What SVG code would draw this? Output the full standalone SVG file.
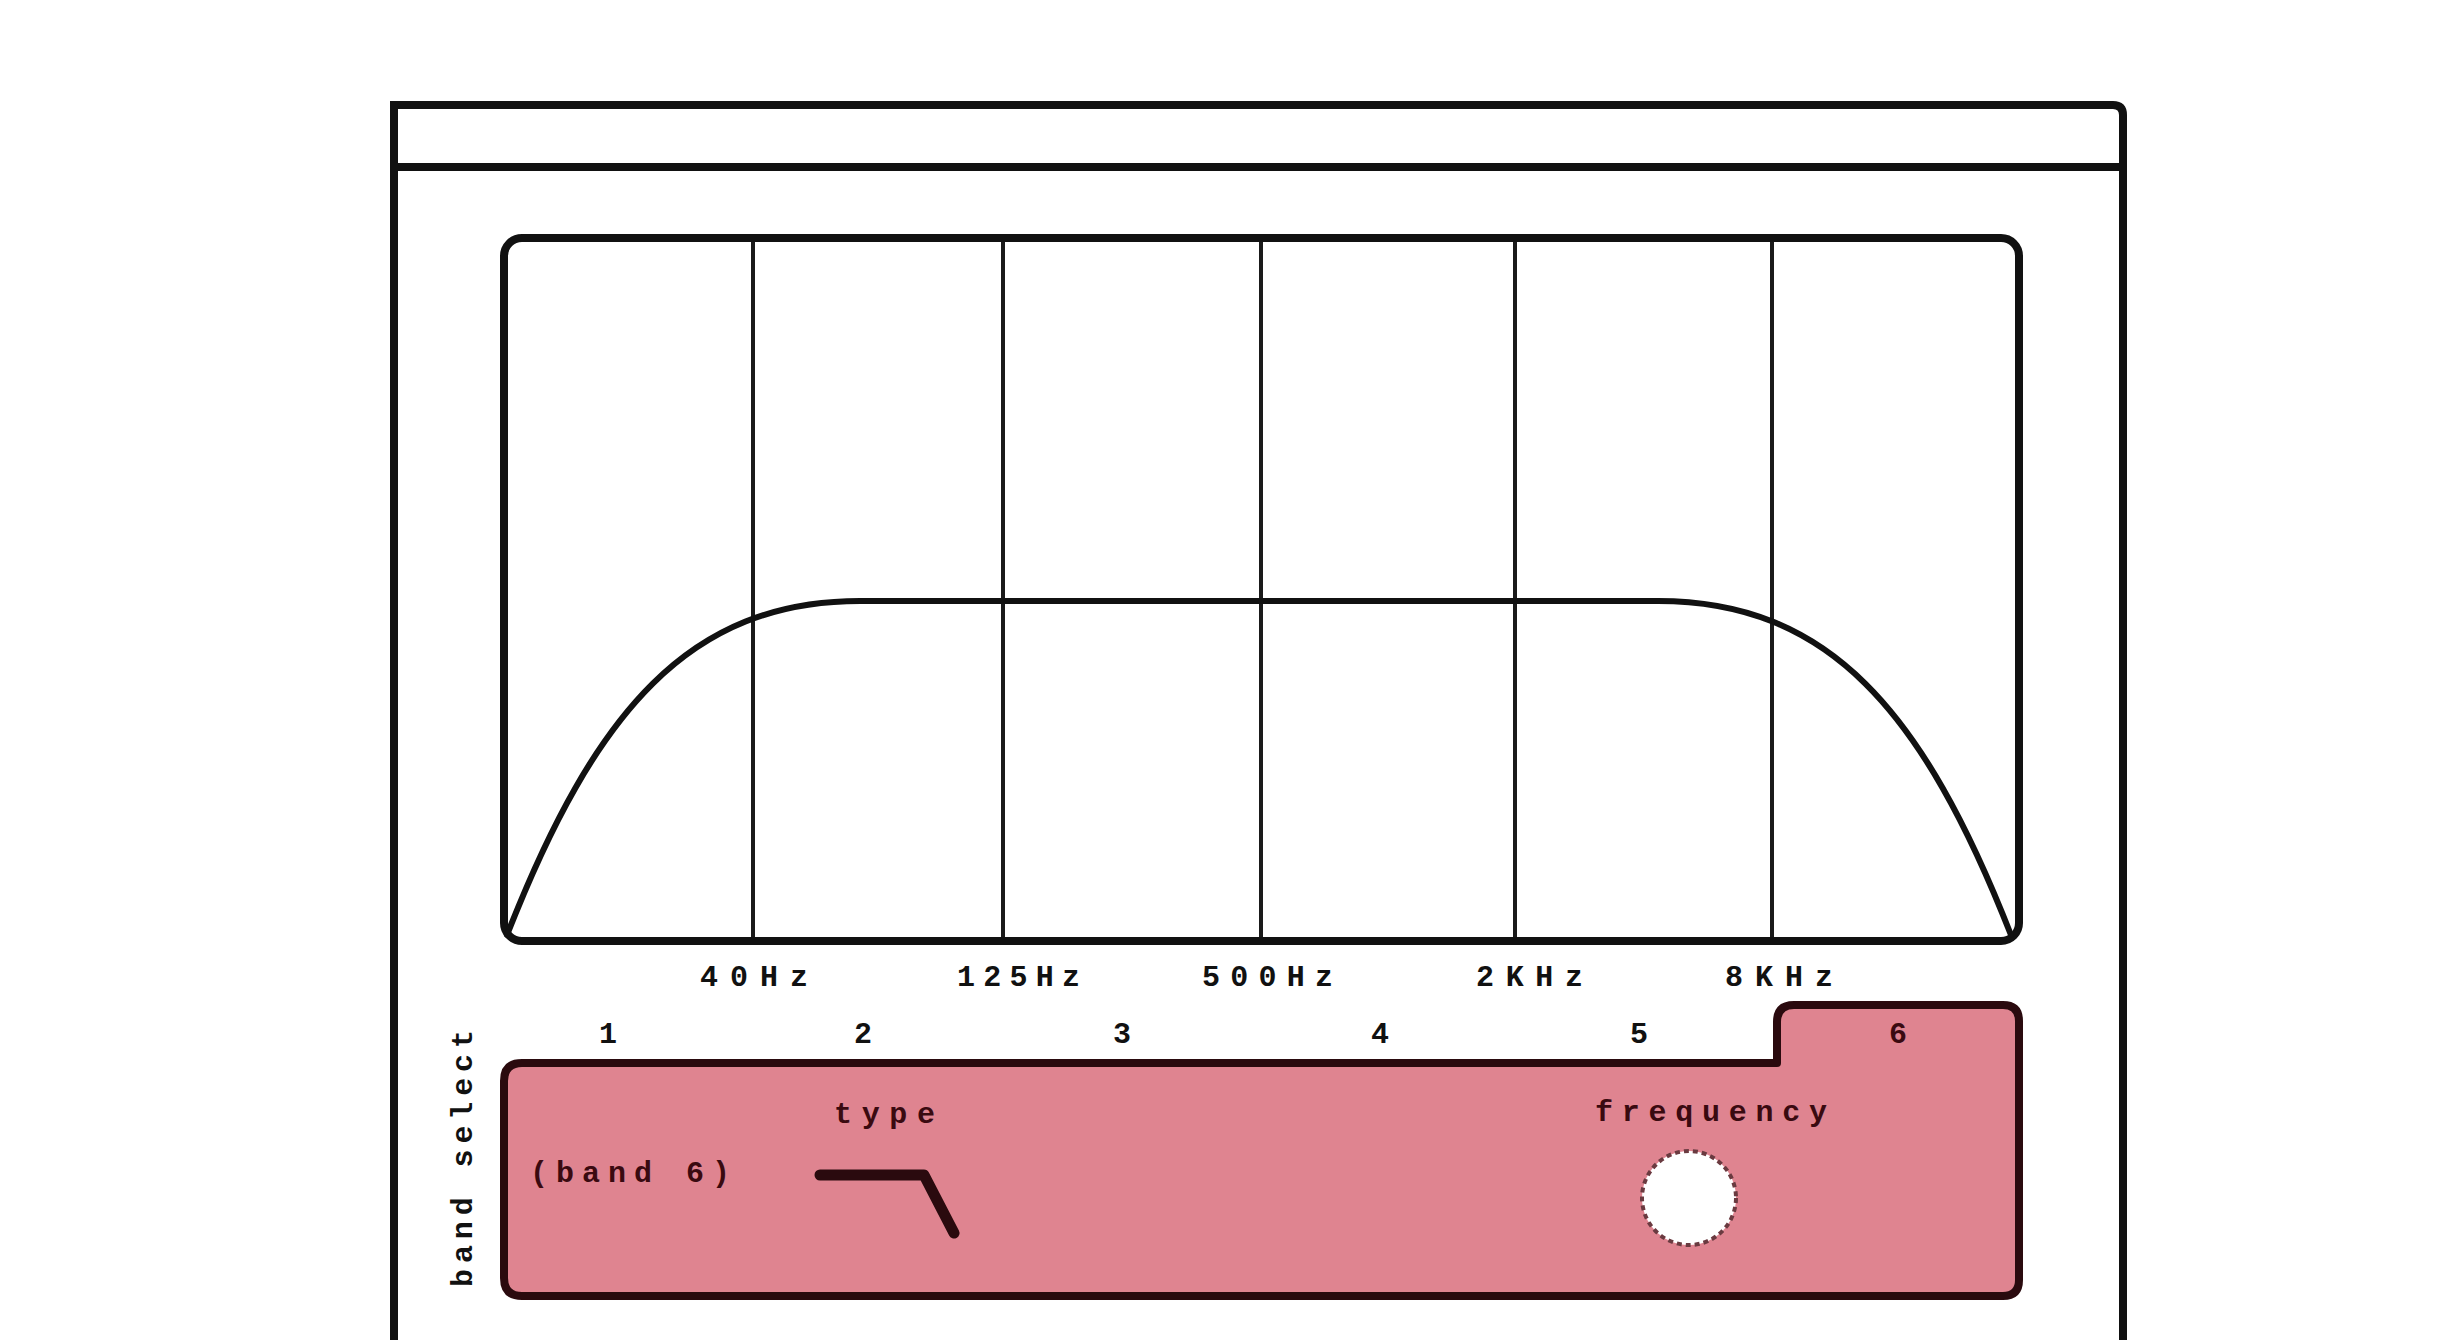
<svg xmlns="http://www.w3.org/2000/svg" width="2454" height="1340" viewBox="0 0 2454 1340">
  <style>
    .frame { fill: none; stroke: #111; stroke-width: 8; }
    .grid { stroke: #1a1a1a; stroke-width: 4; }
    .curve { fill: none; stroke: #111; stroke-width: 6; stroke-linecap: round; }
    .lbl { font-family: "Liberation Mono", "DejaVu Sans Mono", monospace; font-weight: bold; font-size: 30px; fill: #111; }
    .plbl { font-family: "Liberation Mono", "DejaVu Sans Mono", monospace; font-weight: bold; font-size: 30px; fill: #3a0a10; }
    .panel { fill: #df8490; stroke: #2a0a0e; stroke-width: 8; stroke-linejoin: round; }
  </style>
  <rect x="0" y="0" width="2454" height="1340" fill="#ffffff"/>

  <g id="outer-frame">
    <path class="frame" d="M394,1345 L394,105 L2113,105 Q2123,105 2123,115 L2123,1345"/>
    <line class="frame" x1="394" y1="167" x2="2123" y2="167" stroke-width="7"/>
  </g>

  <g id="graph">
    <line class="grid" x1="753" y1="238" x2="753" y2="941"/>
    <line class="grid" x1="1003" y1="238" x2="1003" y2="941"/>
    <line class="grid" x1="1261" y1="238" x2="1261" y2="941"/>
    <line class="grid" x1="1515" y1="238" x2="1515" y2="941"/>
    <line class="grid" x1="1772" y1="238" x2="1772" y2="941"/>
    <rect class="frame" x="504" y="238" width="1515" height="703" rx="18" stroke-width="7"/>
    <path class="curve" d="M507,935 C595,710 690,601 860,601 L1658,601 C1828,601 1923,710 2011,935"/>
  </g>

  <g id="freq-labels">
    <text class="lbl" x="700" y="986" textLength="108" lengthAdjust="spacing">40Hz</text>
    <text class="lbl" x="957" y="986" textLength="123" lengthAdjust="spacing">125Hz</text>
    <text class="lbl" x="1202" y="986" textLength="131" lengthAdjust="spacing">500Hz</text>
    <text class="lbl" x="1476" y="986" textLength="107" lengthAdjust="spacing">2KHz</text>
    <text class="lbl" x="1725" y="986" textLength="108" lengthAdjust="spacing">8KHz</text>
  </g>

  <g id="band-panel">
    <path class="panel" d="M522,1063 L1777,1063 L1777,1022 Q1777,1005 1794,1005 L2003,1005 Q2019,1005 2019,1021 L2019,1280 Q2019,1296 2003,1296 L522,1296 Q504,1296 504,1278 L504,1081 Q504,1063 522,1063 Z"/>
  </g>

  <g id="band-numbers">
    <text class="lbl" x="608" y="1043" text-anchor="middle">1</text>
    <text class="lbl" x="863" y="1043" text-anchor="middle">2</text>
    <text class="lbl" x="1122" y="1043" text-anchor="middle">3</text>
    <text class="lbl" x="1380" y="1043" text-anchor="middle">4</text>
    <text class="lbl" x="1639" y="1043" text-anchor="middle">5</text>
    <text class="plbl" x="1898" y="1043" text-anchor="middle">6</text>
  </g>

  <g id="band-select-label">
    <text class="lbl" transform="translate(472,1287) rotate(-90)" x="0" y="0" textLength="257" lengthAdjust="spacing">band select</text>
  </g>

  <g id="band-name">
    <text class="plbl" x="530" y="1182" textLength="200" lengthAdjust="spacing">(band 6)</text>
  </g>

  <g id="type-control">
    <text class="plbl" x="834" y="1123" textLength="101" lengthAdjust="spacing">type</text>
    <path d="M820,1175 L924,1175 L954,1233" fill="none" stroke="#2a0a0e" stroke-width="11" stroke-linejoin="round" stroke-linecap="round"/>
  </g>

  <g id="frequency-control">
    <text class="plbl" x="1595" y="1121" textLength="232" lengthAdjust="spacing">frequency</text>
    <circle cx="1689" cy="1198" r="47" fill="#ffffff" stroke="#6a3a40" stroke-width="4" stroke-dasharray="5 4"/>
  </g>

  <g id="connectors"></g>
</svg>
